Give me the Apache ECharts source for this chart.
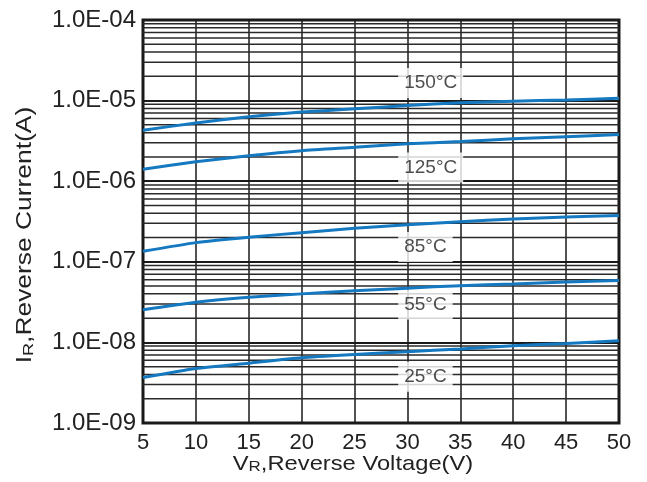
<!DOCTYPE html>
<html>
<head>
<meta charset="utf-8">
<script src="https://cdn.jsdelivr.net/npm/echarts@6/dist/echarts.min.js"></script>
<style>
  html, body { margin: 0; padding: 0; background: #fff; }
  #chart { width: 647px; height: 482px; }
</style>
</head>
<body>
<div id="chart"></div>
<script>
// reverse current vs reverse voltage, one curve per junction temperature
const voltage = [5, 10, 15, 20, 25, 30, 35, 40, 45, 50];
const temps = ['150°C', '125°C', '85°C', '55°C', '25°C'];
const i150 = [4.3e-6, 5.27e-6, 6.3e-6, 7.2e-6, 7.9e-6, 8.7e-6, 9.4e-6, 9.85e-6, 1.02e-5, 1.07e-5];
const i125 = [1.41e-6, 1.74e-6, 2.07e-6, 2.39e-6, 2.63e-6, 2.91e-6, 3.1e-6, 3.36e-6, 3.57e-6, 3.79e-6];
const i85 = [1.35e-7, 1.73e-7, 2.02e-7, 2.3e-7, 2.6e-7, 2.88e-7, 3.15e-7, 3.4e-7, 3.6e-7, 3.75e-7];
const i55 = [2.54e-8, 3.14e-8, 3.62e-8, 4.0e-8, 4.36e-8, 4.71e-8, 5.06e-8, 5.3e-8, 5.6e-8, 5.85e-8];
const i25 = [3.66e-9, 4.74e-9, 5.53e-9, 6.45e-9, 7.07e-9, 7.66e-9, 8.3e-9, 9.1e-9, 9.7e-9, 1.05e-8];
// where the temperature tags sit (V, A)
const tagV = [32.2, 32.2, 31.7, 31.7, 31.7];
const tagI = [1.65e-5, 1.48e-6, 1.53e-7, 2.95e-8, 3.74e-9];
// minor log grid: 2..9 in every decade
const decades = [-9, -8, -7, -6, -5];
const minorSteps = [2, 3, 4, 5, 6, 7, 8, 9];

const curves = [i150, i125, i85, i55, i25];
const font = '"Liberation Sans", Arial, sans-serif';

const minorLines = [];
decades.forEach(d => {
  minorSteps.forEach(k => minorLines.push([voltage[0], k * Math.pow(10, d), voltage[voltage.length - 1]]));
});

const expLabel = (v) => {
  const e = Math.round(Math.log10(v));
  return '1.0E' + (e < 0 ? '-' : '+') + String(Math.abs(e)).padStart(2, '0');
};

const chart = echarts.init(document.getElementById('chart'));

const option = {
  animation: false,
  grid: {
    left: 143,
    right: 28,
    top: 20,
    bottom: 59,
    show: true,
    borderColor: '#1a1a1a',
    borderWidth: 3,
  },
  xAxis: {
    type: 'value',
    min: 5,
    max: 50,
    interval: 5,
    axisLine: { show: false },
    axisTick: { show: false },
    axisLabel: {
      margin: 9,
      color: '#222',
      fontSize: 22,
      fontFamily: font,
    },
    splitLine: {
      show: true,
      lineStyle: { color: '#1a1a1a', width: 1.5 },
    },
  },
  yAxis: {
    type: 'log',
    logBase: 10,
    min: 1e-9,
    max: 1e-4,
    splitNumber: 5,
    axisLine: { show: false },
    axisTick: { show: false },
    axisLabel: {
      margin: 7,
      color: '#222',
      fontSize: 24,
      fontFamily: font,
      formatter: expLabel,
    },
    splitLine: {
      show: true,
      lineStyle: { color: '#1a1a1a', width: 2 },
    },
  },
  graphic: [
    {
      type: 'text',
      x: 353,
      y: 464,
      scaleX: 1.13,
      style: {
        text: '{m|V}{s|R}{m|,Reverse Voltage(V)}',
        align: 'center',
        verticalAlign: 'middle',
        fill: '#222',
        rich: {
          m: { fontSize: 21, fontFamily: font, fill: '#222', verticalAlign: 'bottom' },
          s: { fontSize: 15, fontFamily: font, fill: '#222', verticalAlign: 'bottom' },
        },
      },
    },
    {
      type: 'text',
      x: 25,
      y: 235,
      rotation: Math.PI / 2,
      scaleX: 1.2,
      style: {
        text: '{m|I}{s|R}{m|,Reverse Current(A)}',
        align: 'center',
        verticalAlign: 'middle',
        fill: '#222',
        rich: {
          m: { fontSize: 22, fontFamily: font, fill: '#222', verticalAlign: 'bottom' },
          s: { fontSize: 15, fontFamily: font, fill: '#222', verticalAlign: 'bottom' },
        },
      },
    },
  ],
  series: [
    {
      // minor grid lines, drawn through the axes
      type: 'custom',
      name: 'minor',
      z: 1,
      silent: true,
      data: minorLines,
      encode: { x: [0, 2], y: 1 },
      renderItem: (params, api) => {
        const a = api.coord([api.value(0), api.value(1)]);
        const b = api.coord([api.value(2), api.value(1)]);
        return {
          type: 'line',
          shape: { x1: a[0], y1: a[1], x2: b[0], y2: b[1] },
          style: { stroke: '#2a2a2a', lineWidth: 1.5 },
        };
      },
    },
    {
      type: 'scatter',
      name: 'tags',
      z: 2,
      symbolSize: 0,
      silent: true,
      data: temps.map((t, i) => ({ name: t, value: [tagV[i], tagI[i]] })),
      label: {
        show: true,
        position: 'inside',
        formatter: '{b}',
        color: '#222',
        fontSize: 19,
        fontFamily: font,
        backgroundColor: '#fff',
        padding: [6, 6, 5, 6],
      },
    },
  ].concat(curves.map((vals, i) => ({
    type: 'line',
    name: temps[i],
    z: 3,
    data: voltage.map((v, j) => [v, vals[j]]),
    showSymbol: false,
    smooth: 0.2,
    lineStyle: { color: '#1479c0', width: 3 },
  }))),
};

chart.setOption(option);
</script>
</body>
</html>
